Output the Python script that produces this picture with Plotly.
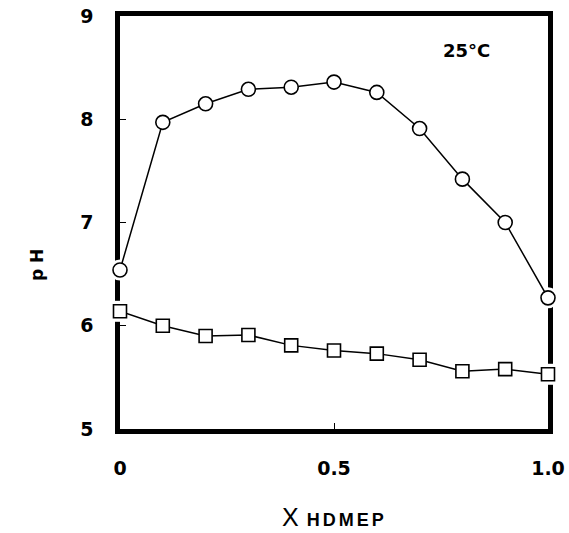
import plotly.graph_objects as go

x_vals = [0.0, 0.1, 0.2, 0.3, 0.4, 0.5, 0.6, 0.7, 0.8, 0.9, 1.0]
ph_circles = [6.54, 7.97, 8.15, 8.29, 8.31, 8.36, 8.26, 7.91, 7.42, 7.00, 6.27]
ph_squares = [6.14, 6.00, 5.90, 5.91, 5.81, 5.76, 5.73, 5.67, 5.56, 5.58, 5.53]
x_ticks = [0, 0.5, 1.0]
x_ticktext = ["0", "0.5", "1.0"]
y_ticks = [5, 6, 7, 8, 9]
y_ticktext = ["5", "6", "7", "8", "9"]

fig = go.Figure()

# white halos to break the frame around markers
for ys, sym in [(ph_circles, "circle"), (ph_squares, "square")]:
    fig.add_trace(go.Scatter(
        x=x_vals, y=ys, mode="markers",
        marker=dict(symbol=sym, size=21, color="white", line=dict(width=0)),
        cliponaxis=False, hoverinfo="skip", showlegend=False))

fig.add_trace(go.Scatter(
    x=x_vals, y=ph_circles, mode="lines+markers",
    line=dict(color="black", width=1.5),
    marker=dict(symbol="circle", size=14, color="white", line=dict(color="black", width=1.6)),
    cliponaxis=False, showlegend=False))
fig.add_trace(go.Scatter(
    x=x_vals, y=ph_squares, mode="lines+markers",
    line=dict(color="black", width=1.5),
    marker=dict(symbol="square", size=13, color="white", line=dict(color="black", width=1.6)),
    cliponaxis=False, showlegend=False))

bold_family = "DejaVu Sans, Liberation Sans, sans-serif"
axis_font = dict(family=bold_family, size=19, color="black", weight="bold")

fig.update_layout(
    width=569, height=533,
    margin=dict(l=120, r=21, t=16, b=104),
    paper_bgcolor="white", plot_bgcolor="white",
    xaxis=dict(range=[0, 1], tickvals=x_ticks, ticktext=x_ticktext, automargin=False,
               showgrid=False, zeroline=False, showline=True, linewidth=4.5, linecolor="black",
               mirror=True, ticks="inside", ticklen=6, tickwidth=1, tickcolor="black",
               tickfont=axis_font, ticklabelstandoff=18, layer="below traces"),
    yaxis=dict(range=[5, 9], tickvals=y_ticks, ticktext=y_ticktext, automargin=False,
               showgrid=False, zeroline=False, showline=True, linewidth=4.5, linecolor="black",
               mirror=True, ticks="inside", ticklen=6, tickwidth=1, tickcolor="black",
               tickfont=axis_font, ticklabelstandoff=18, layer="below traces"),
    annotations=[
        dict(text="25°C", x=0.81, y=8.67, xref="x", yref="y", showarrow=False,
             xanchor="center", yanchor="middle",
             font=dict(family=bold_family, size=18, color="black", weight="bold")),
        dict(text="p H", x=-0.194, y=0.397, xref="paper", yref="paper", showarrow=False,
             xanchor="center", yanchor="middle", textangle=-90,
             font=dict(family=bold_family, size=17, color="black", weight="bold")),
        dict(text="X<span style='font-size:18px;font-weight:bold;letter-spacing:3px'> HDMEP</span>",
             x=0.5, y=-0.213, xref="paper", yref="paper", showarrow=False,
             xanchor="center", yanchor="middle",
             font=dict(family="Liberation Sans, Arial, sans-serif", size=25, color="black")),
    ],
)

fig.write_html("out.html")
